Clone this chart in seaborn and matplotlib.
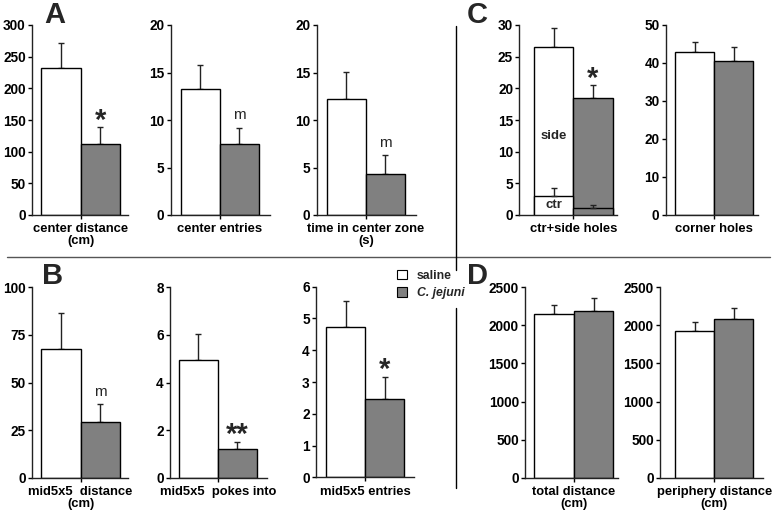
import matplotlib

matplotlib.use("Agg")
import matplotlib.pyplot as plt
import pandas as pd
import seaborn as sns
from matplotlib.lines import Line2D
from matplotlib.patches import Patch

W, H = 776, 512

groups = ["saline", "C. jejuni"]
colors = ["white", "#808080"]

# panel values (saline, C. jejuni) and upper error bars
labels = {
    "A1": "center distance\n(cm)",
    "A2": "center entries",
    "A3": "time in center zone\n(s)",
    "C1": "ctr+side holes",
    "C2": "corner holes",
    "B1": "mid5x5  distance\n(cm)",
    "B2": "mid5x5  pokes into",
    "B3": "mid5x5 entries",
    "D1": "total distance\n(cm)",
    "D2": "periphery distance\n(cm)",
}
means = {
    "A1": [232, 111.5],
    "A2": [13.3, 7.47],
    "A3": [12.25, 4.28],
    "C1": [26.5, 18.4],
    "C2": [42.8, 40.4],
    "B1": [67.4, 29.3],
    "B2": [4.93, 1.2],
    "B3": [4.74, 2.46],
    "D1": [2150, 2190],
    "D2": [1920, 2080],
}
err_top = {
    "A1": [271, 138.5],
    "A2": [15.8, 9.2],
    "A3": [15.1, 6.28],
    "C1": [29.6, 20.5],
    "C2": [45.6, 44.2],
    "B1": [86.3, 38.7],
    "B2": [6.05, 1.52],
    "B3": [5.54, 3.16],
    "D1": [2265, 2360],
    "D2": [2040, 2225],
}
ctr_means = [3.05, 1.05]
ctr_err_top = [4.2, 1.6]
yticks = {
    "A1": [0, 50, 100, 150, 200, 250, 300],
    "A2": [0, 5, 10, 15, 20],
    "A3": [0, 5, 10, 15, 20],
    "C1": [0, 5, 10, 15, 20, 25, 30],
    "C2": [0, 10, 20, 30, 40, 50],
    "B1": [0, 25, 50, 75, 100],
    "B2": [0, 2, 4, 6, 8],
    "B3": [0, 1, 2, 3, 4, 5, 6],
    "D1": [0, 500, 1000, 1500, 2000, 2500],
    "D2": [0, 500, 1000, 1500, 2000, 2500],
}
marks = {"A1": "*", "A2": "m", "A3": "m", "C1": "*", "B1": "m", "B2": "**", "B3": "*"}

# pixel layout: left spine, white bar start, gray bar end, axis end, top tick, zero
layout = {
    "A1": (32, 41, 120, 128, 25, 215),
    "A2": (170.7, 180.7, 259, 270, 25, 215),
    "A3": (316.7, 326.7, 405, 415.7, 25, 215),
    "C1": (519.3, 534, 612.7, 617, 25, 215),
    "C2": (665.7, 675.3, 753.3, 757.7, 25, 215),
    "B1": (32, 41, 120, 128, 287.3, 477.7),
    "B2": (170, 178.7, 256.7, 266.7, 287.3, 477.7),
    "B3": (316, 326, 404.3, 414, 286.7, 477.3),
    "D1": (525, 534.3, 613.3, 618, 287.3, 477.7),
    "D2": (660, 675, 753.3, 763, 287.3, 477.7),
}

sns.set_style("ticks")
plt.rcParams["font.family"] = ["Liberation Sans", "DejaVu Sans"]
plt.rcParams["font.weight"] = "bold"

fig = plt.figure(figsize=(W / 100, H / 100), dpi=100)


def draw_panel(key):
    x0, xw, xg, x1, ytop, yzero = layout[key]
    ax = fig.add_axes([x0 / W, 1 - yzero / H, (x1 - x0) / W, (yzero - ytop) / H])
    df = pd.DataFrame({"group": groups, "value": means[key]})
    sns.barplot(data=df, x="group", y="value", hue="group", palette=colors,
                width=1.0, edgecolor="black", linewidth=1.0, errorbar=None,
                legend=False, ax=ax, zorder=2)
    up = [t - m for t, m in zip(err_top[key], means[key])]
    ax.errorbar([0, 1], means[key], yerr=[[0, 0], up], fmt="none",
                ecolor="#222222", elinewidth=1.0, capsize=2.5, capthick=1.0, zorder=1)
    if key == "C1":
        dfc = pd.DataFrame({"group": groups, "value": ctr_means})
        sns.barplot(data=dfc, x="group", y="value", hue="group", palette=colors,
                    width=1.0, edgecolor="black", linewidth=1.0, errorbar=None,
                    legend=False, ax=ax, zorder=3)
        upc = [t - m for t, m in zip(ctr_err_top, ctr_means)]
        ax.errorbar([0, 1], ctr_means, yerr=[[0, 0], upc], fmt="none",
                    ecolor="#222222", elinewidth=1.0, capsize=2.5, capthick=1.0, zorder=4)
        ax.text(0, 12.4, "side", ha="center", va="center", fontsize=9.5, fontweight="bold")
        ax.text(0, 1.55, "ctr", ha="center", va="center", fontsize=9.5, fontweight="bold")
    u = (xg - xw) / 2
    ax.set_xlim(-0.5 - (xw - x0) / u, 1.5 + (x1 - xg) / u)
    ax.set_ylim(0, yticks[key][-1])
    ax.set_yticks(yticks[key])
    ax.set_yticklabels([str(t) for t in yticks[key]], fontsize=9.8, fontweight="bold")
    ax.set_xticks([0.5])
    ax.set_xticklabels([labels[key]], fontsize=9.4, fontweight="bold", linespacing=0.95)
    ax.tick_params(axis="y", length=3, width=1, pad=1.5, colors="black")
    ax.tick_params(axis="x", length=3, width=1, pad=3, colors="black")
    ax.set_xlabel("")
    ax.set_ylabel("")
    for side in ["top", "right"]:
        ax.spines[side].set_visible(False)
    for side in ["left", "bottom"]:
        ax.spines[side].set_linewidth(1.0)
        ax.spines[side].set_color("#222222")
    if key in marks:
        txt = marks[key]
        if txt == "m":
            ax.annotate(txt, (1, err_top[key][1]), xytext=(0, 6), textcoords="offset points",
                        ha="center", va="baseline", fontsize=11, fontweight="normal")
        else:
            ax.annotate(txt, (1, err_top[key][1]), xytext=(0, -1), textcoords="offset points",
                        ha="center", va="baseline", fontsize=21, fontweight="bold")
    return ax


for key in layout:
    draw_panel(key)

# panel letters
for letter, (px, py) in {"A": (54.5, 15), "C": (477.5, 15),
                         "B": (52.5, 276), "D": (477.5, 276)}.items():
    fig.text(px / W, 1 - py / H, letter, ha="center", va="center",
             fontsize=21, fontweight="bold")

# divider lines
fig.add_artist(Line2D([7 / W, 770 / W], [1 - 257 / H, 1 - 257 / H],
                      color="#555555", linewidth=1.0))
fig.add_artist(Line2D([456 / W, 456 / W], [1 - 26 / H, 1 - 270 / H],
                      color="black", linewidth=1.0))
fig.add_artist(Line2D([456 / W, 456 / W], [1 - 308 / H, 1 - 488 / H],
                      color="black", linewidth=1.0))

# legend
handles = [Patch(facecolor=c, edgecolor="black", linewidth=0.8) for c in colors]
leg = fig.legend(handles, groups, loc="center left",
                 bbox_to_anchor=(397 / W, 1 - 284.5 / H), frameon=False,
                 handlelength=0.8, handleheight=0.8, handletextpad=0.8,
                 labelspacing=0.45, borderpad=0, borderaxespad=0,
                 prop={"size": 8.8, "weight": "bold"})
leg.get_texts()[1].set_fontstyle("italic")

fig.savefig("out.png", dpi=100)
